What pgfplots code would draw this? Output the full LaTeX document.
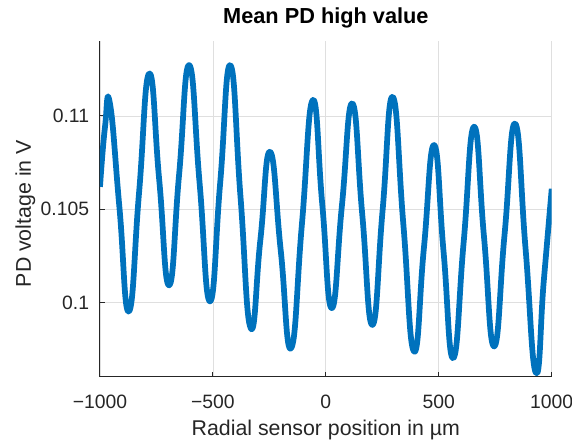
\documentclass[border=0pt]{standalone}
\usepackage{fontspec}
\setmainfont{Liberation Sans}
\usepackage{pgfplots}
\pgfplotsset{compat=1.18}
\definecolor{mblue}{RGB}{0,114,189}
\definecolor{axgray}{RGB}{38,38,38}
\definecolor{gridgray}{RGB}{223,223,223}
\begin{document}
\begin{tikzpicture}
\useasboundingbox (-75pt,-48.2pt) rectangle (354pt,282.5pt);
\begin{axis}[
  at={(0,0)}, anchor=south west,
  scale only axis, width=338.8pt, height=252pt,
  xmin=-1000, xmax=1000, ymin=0.09604, ymax=0.11403,
  axis x line*=bottom, axis y line*=left,
  axis line style={-, draw=axgray, line width=0.75pt},
  xtick={-1000,-500,0,500,1000},
  xticklabels={−1000,−500,0,500,1000},
  ytick={0.1,0.105,0.11},
  yticklabels={0.1,0.105,0.11},
  tick align=inside, major tick length=3.75pt,
  tick style={draw=axgray, line width=0.75pt},
  grid=major, grid style={draw=gridgray, line width=0.6pt},
  /pgf/number format/assume math mode=true,
  ticklabel style={font=\fontsize{14.5}{17}\selectfont, text=axgray},
  xticklabel style={anchor=base, inner sep=0pt, yshift=-24.2pt},
  yticklabel style={anchor=east, inner sep=0pt, xshift=-8pt},
  title={Mean PD high value},
  title style={at={(axis description cs:0.5,1)}, anchor=base, inner sep=0pt, yshift=6.9pt, font=\fontsize{16.3}{19}\selectfont\bfseries},
  xlabel={Radial sensor position in µm},
  xlabel style={at={(axis description cs:0.5,0)}, anchor=base, inner sep=0pt, yshift=-44.2pt, font=\fontsize{16}{19}\selectfont, text=axgray},
  ylabel={PD voltage in V},
  ylabel style={at={(axis description cs:-0.153,0.485)}, anchor=base, inner sep=0pt, rotate=0, font=\fontsize{16}{19}\selectfont, text=axgray},
]
\addplot[mblue, line width=4.3pt, smooth, tension=0.85, line join=round] coordinates {
(-1000,0.1062) (-978,0.1094) (-956,0.11067) (-914,0.10510) (-872,0.09953)
(-827,0.10590) (-782,0.11227) (-738,0.10660) (-694,0.10093) (-650,0.10683)
(-605,0.11272) (-559,0.10640) (-513,0.10007) (-468,0.10640) (-423,0.11272)
(-378,0.10568) (-333,0.09864) (-290,0.10336) (-247,0.10808) (-200,0.10282)
(-154,0.09756) (-106,0.10421) (-58,0.11085) (-16,0.10528) (26,0.09971)
(71,0.10519) (117,0.11067) (161,0.10474) (206,0.09881) (251,0.10492)
(296,0.11102) (343,0.10421) (390,0.09739) (434,0.10292) (479,0.10844)
(521,0.10274) (564,0.09703) (610,0.10323) (656,0.10942) (700,0.10354)
(745,0.09766) (791,0.10363) (838,0.10959) (884,0.10291) (930,0.09623)
(965,0.1012) (1000,0.1061)
};
\end{axis}
\end{tikzpicture}
\end{document}
